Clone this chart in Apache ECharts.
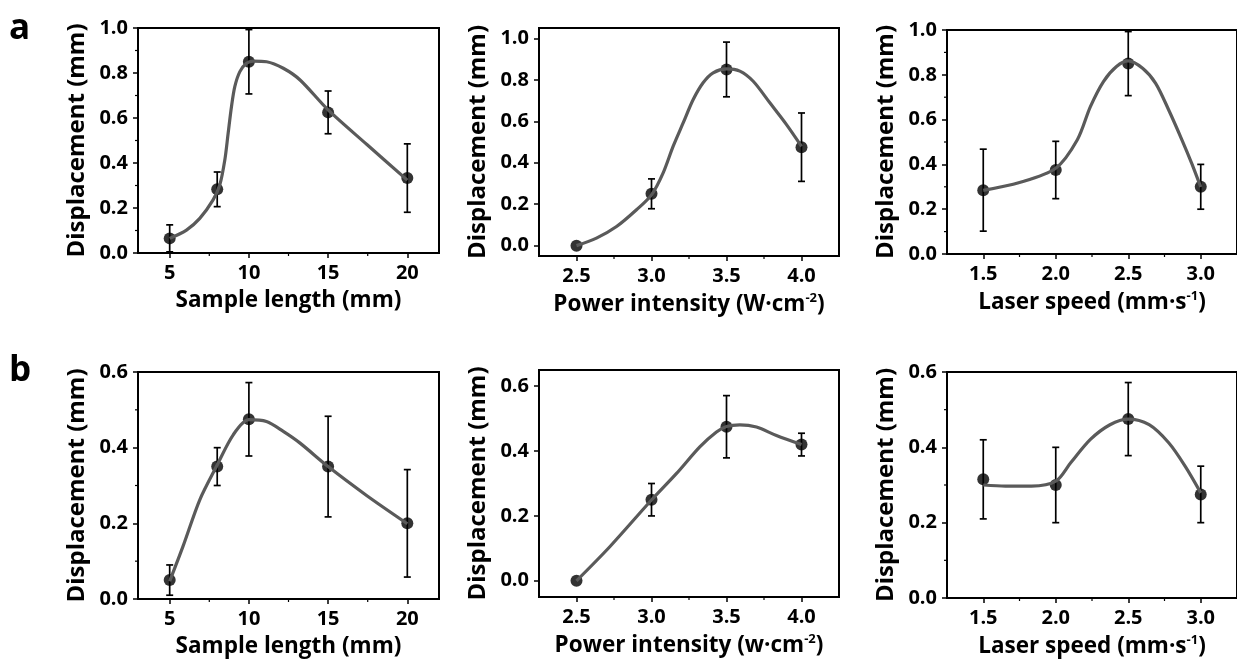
<!DOCTYPE html>
<html>
<head>
<meta charset="utf-8">
<script src="https://cdn.jsdelivr.net/npm/echarts@6/dist/echarts.min.js"></script>
<style>
  html, body { margin: 0; padding: 0; background: #fff; }
  #chart { width: 1237px; height: 660px; }
</style>
</head>
<body>
<div id="chart"></div>
<script>
// ---- x categories / tick labels ----
const lengthX = [5, 8, 10, 15, 20];
const powerX = [2.5, 3.0, 3.5, 4.0];
const speedX = [1.5, 2.0, 2.5, 3.0];

const lengthTicks = [5, 10, 15, 20];
const lengthMinor = [7.5, 12.5, 17.5];
const powerTicks = [2.5, 3.0, 3.5, 4.0];
const powerMinor = [2.75, 3.25, 3.75];
const speedTicks = [1.5, 2.0, 2.5, 3.0];
const speedMinor = [1.75, 2.25, 2.75];

const yTicks10 = [0, 0.2, 0.4, 0.6, 0.8, 1.0];
const yMinor10 = [0.1, 0.3, 0.5, 0.7, 0.9];
const yTicks06 = [0, 0.2, 0.4, 0.6];
const yMinor06 = [0.1, 0.3, 0.5];

// ---- row a: means and error half-widths ----
const aLenY = [0.065, 0.283, 0.85, 0.625, 0.333];
const aLenErr = [0.06, 0.077, 0.143, 0.095, 0.152];
const aPowY = [0.0, 0.25, 0.85, 0.475];
const aPowErr = [0, 0.072, 0.132, 0.165];
const aSpdY = [0.285, 0.375, 0.85, 0.30];
const aSpdErr = [0.183, 0.128, 0.143, 0.10];

// ---- row b ----
const bLenY = [0.05, 0.35, 0.475, 0.35, 0.20];
const bLenErr = [0.04, 0.05, 0.097, 0.133, 0.142];
const bPowY = [0.0, 0.25, 0.475, 0.42];
const bPowErr = [0, 0.05, 0.096, 0.035];
const bSpdY = [0.315, 0.30, 0.475, 0.275];
const bSpdErr = [0.105, 0.10, 0.097, 0.075];

// ---- fitted curves ----
const aLenCurveX = [5, 6.06, 6.9, 7.74, 8.16, 8.48, 8.69, 8.9, 9.11, 9.43, 9.85, 10.27, 11.12, 12.17, 13.23, 15, 17.45, 20];
const aLenCurveY = [0.065, 0.102, 0.154, 0.236, 0.302, 0.413, 0.532, 0.65, 0.739, 0.806, 0.843, 0.853, 0.85, 0.821, 0.769, 0.636, 0.482, 0.324];
const aPowCurveX = [2.5, 2.633, 2.767, 2.9, 3.0, 3.077, 3.144, 3.211, 3.278, 3.344, 3.411, 3.5, 3.589, 3.678, 3.789, 3.9, 4.0];
const aPowCurveY = [0.0, 0.036, 0.092, 0.173, 0.245, 0.35, 0.479, 0.592, 0.705, 0.786, 0.834, 0.853, 0.842, 0.793, 0.689, 0.584, 0.479];
const aSpdCurveX = [1.5, 1.75, 2.0, 2.149, 2.239, 2.329, 2.419, 2.5, 2.599, 2.689, 2.779, 2.87, 2.937, 3.0];
const aSpdCurveY = [0.284, 0.319, 0.383, 0.51, 0.658, 0.77, 0.837, 0.862, 0.829, 0.762, 0.643, 0.51, 0.406, 0.299];
const bLenCurveX = [5, 5.84, 6.9, 7.95, 9.01, 10, 11.11, 12.17, 13.23, 15, 17.45, 20];
const bLenCurveY = [0.047, 0.139, 0.262, 0.35, 0.434, 0.474, 0.469, 0.443, 0.412, 0.35, 0.273, 0.199];
const bPowCurveX = [2.5, 2.722, 3.0, 3.167, 3.322, 3.433, 3.5, 3.589, 3.7, 3.833, 4.0];
const bPowCurveY = [0.0, 0.105, 0.249, 0.331, 0.413, 0.459, 0.476, 0.481, 0.474, 0.448, 0.42];
const bSpdCurveX = [1.5, 1.653, 1.833, 2.0, 2.103, 2.239, 2.374, 2.5, 2.644, 2.779, 2.892, 3.0];
const bSpdCurveY = [0.30, 0.297, 0.297, 0.31, 0.359, 0.421, 0.46, 0.475, 0.46, 0.412, 0.35, 0.279];

const FONT = 'Open Sans';

const panels = [
  { grid: { left: 138, top: 28, width: 301, height: 225 }, xMin: 3, xMax: 22, yMin: 0, yMax: 1.0,
    xTicks: lengthTicks, xMinor: lengthMinor, yTicks: yTicks10, yMinor: yMinor10, dec: 0,
    xs: lengthX, ys: aLenY, es: aLenErr, cx: aLenCurveX, cy: aLenCurveY,
    xName: 'Sample length (mm)' },
  { grid: { left: 539, top: 28, width: 300, height: 228 }, xMin: 2.25, xMax: 4.25, yMin: -0.05, yMax: 1.05,
    xTicks: powerTicks, xMinor: powerMinor, yTicks: yTicks10, yMinor: [], dec: 1,
    xs: powerX, ys: aPowY, es: aPowErr, cx: aPowCurveX, cy: aPowCurveY,
    xName: 'Power intensity (W·cm{sup|-2})' },
  { grid: { left: 947, top: 30, width: 300, height: 224 }, xMin: 1.25, xMax: 3.25, yMin: 0, yMax: 1.0,
    xTicks: speedTicks, xMinor: speedMinor, yTicks: yTicks10, yMinor: yMinor10, dec: 1,
    xs: speedX, ys: aSpdY, es: aSpdErr, cx: aSpdCurveX, cy: aSpdCurveY,
    xName: 'Laser speed (mm·s{sup|-1})' },
  { grid: { left: 138, top: 372, width: 301, height: 227 }, xMin: 3, xMax: 22, yMin: 0, yMax: 0.6,
    xTicks: lengthTicks, xMinor: lengthMinor, yTicks: yTicks06, yMinor: yMinor06, dec: 0,
    xs: lengthX, ys: bLenY, es: bLenErr, cx: bLenCurveX, cy: bLenCurveY,
    xName: 'Sample length (mm)' },
  { grid: { left: 539, top: 370, width: 300, height: 227 }, xMin: 2.25, xMax: 4.25, yMin: -0.05, yMax: 0.65,
    xTicks: powerTicks, xMinor: powerMinor, yTicks: yTicks06, yMinor: [], dec: 1,
    xs: powerX, ys: bPowY, es: bPowErr, cx: bPowCurveX, cy: bPowCurveY,
    xName: 'Power intensity (w·cm{sup|-2})' },
  { grid: { left: 947, top: 372, width: 300, height: 226 }, xMin: 1.25, xMax: 3.25, yMin: 0, yMax: 0.6,
    xTicks: speedTicks, xMinor: speedMinor, yTicks: yTicks06, yMinor: yMinor06, dec: 1,
    xs: speedX, ys: bSpdY, es: bSpdErr, cx: bSpdCurveX, cy: bSpdCurveY,
    xName: 'Laser speed (mm·s{sup|-1})' }
];

const chart = echarts.init(document.getElementById('chart'));

const grids = [], xAxes = [], yAxes = [], series = [];
const labelStyle = { fontFamily: FONT, fontWeight: 'bold', fontSize: 20, color: '#000' };

panels.forEach((p, i) => {
  grids.push(Object.assign({ show: true, borderColor: '#000', borderWidth: 2, backgroundColor: 'transparent' }, p.grid));

  xAxes.push({
    gridIndex: i, type: 'value', min: p.xMin, max: p.xMax,
    axisLine: { onZero: false, lineStyle: { color: '#000', width: 2 } },
    axisTick: { customValues: p.xTicks, length: 5, lineStyle: { color: '#000', width: 1.5 } },
    axisLabel: Object.assign({ customValues: p.xTicks, margin: 10,
      formatter: v => v.toFixed(p.dec) }, labelStyle),
    splitLine: { show: false },
    name: p.xName, nameLocation: 'middle', nameGap: 36,
    nameTextStyle: Object.assign({}, labelStyle, { fontSize: 22.5,
      rich: { sup: { fontFamily: FONT, fontWeight: 'bold', fontSize: 13, color: '#000', verticalAlign: 'top', padding: [0, 0, 12, 0] } } })
  });

  yAxes.push({
    gridIndex: i, type: 'value', min: p.yMin, max: p.yMax,
    axisLine: { onZero: false, lineStyle: { color: '#000', width: 2 } },
    axisTick: { customValues: p.yTicks, length: 5, lineStyle: { color: '#000', width: 1.5 } },
    axisLabel: Object.assign({ customValues: p.yTicks, margin: 10,
      formatter: v => v.toFixed(1) }, labelStyle),
    splitLine: { show: false },
    name: 'Displacement (mm)', nameLocation: 'middle', nameGap: 49,
    nameTextStyle: Object.assign({}, labelStyle, { fontSize: 24 })
  });

  // minor ticks (short outward marks) drawn through the axes' scales
  series.push({
    type: 'custom', xAxisIndex: i, yAxisIndex: i, silent: true, clip: false, z: 1,
    data: p.xMinor.map(v => [v, p.yMin]).concat(p.yMinor.map(v => [p.xMin, v])),
    encode: { x: 0, y: 1 },
    renderItem: (params, api) => {
      const c = api.coord([api.value(0), api.value(1)]);
      const st = { stroke: '#000', lineWidth: 1.2 };
      if (params.dataIndex < p.xMinor.length) {
        return { type: 'line', shape: { x1: c[0], y1: c[1], x2: c[0], y2: c[1] + 3 }, style: st };
      }
      return { type: 'line', shape: { x1: c[0], y1: c[1], x2: c[0] - 3, y2: c[1] }, style: st };
    }
  });

  // error bars
  series.push({
    type: 'custom', xAxisIndex: i, yAxisIndex: i, silent: true, clip: false, z: 2,
    data: p.xs.map((x, k) => [x, p.ys[k] - p.es[k], p.ys[k] + p.es[k]]),
    encode: { x: 0, y: [1, 2] },
    renderItem: (params, api) => {
      const lo = api.coord([api.value(0), api.value(1)]);
      const hi = api.coord([api.value(0), api.value(2)]);
      if (Math.abs(hi[1] - lo[1]) < 1) return null;
      const w = 3.5;
      const st = { stroke: '#000', lineWidth: 1.7 };
      return { type: 'group', children: [
        { type: 'line', shape: { x1: lo[0], y1: lo[1], x2: hi[0], y2: hi[1] }, style: st },
        { type: 'line', shape: { x1: lo[0] - w, y1: lo[1], x2: lo[0] + w, y2: lo[1] }, style: st },
        { type: 'line', shape: { x1: hi[0] - w, y1: hi[1], x2: hi[0] + w, y2: hi[1] }, style: st }
      ] };
    }
  });

  // data points
  series.push({
    type: 'scatter', xAxisIndex: i, yAxisIndex: i, z: 3,
    symbol: 'circle', symbolSize: 12, itemStyle: { color: '#000' },
    data: p.xs.map((x, k) => [x, p.ys[k]])
  });

  // fitted curve
  series.push({
    type: 'line', xAxisIndex: i, yAxisIndex: i, z: 4,
    smooth: 0.3, symbol: 'none',
    lineStyle: { color: '#5a5a5a', width: 3.2 },
    data: p.cx.map((x, k) => [x, p.cy[k]])
  });
});

const option = {
  backgroundColor: '#fff',
  animation: false,
  grid: grids,
  xAxis: xAxes,
  yAxis: yAxes,
  series: series,
  graphic: [
    { type: 'text', left: 9, top: 12, style: { text: 'a', fontFamily: FONT, fontWeight: 'bold', fontSize: 35, fill: '#000' } },
    { type: 'text', left: 9, top: 354, style: { text: 'b', fontFamily: FONT, fontWeight: 'bold', fontSize: 35, fill: '#000' } }
  ]
};

chart.setOption(option);
window.addEventListener('resize', () => chart.resize());
</script>
</body>
</html>
